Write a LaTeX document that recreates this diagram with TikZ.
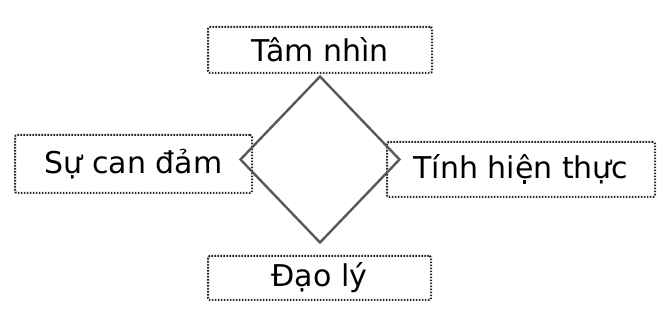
\documentclass[tikz,border=0pt]{standalone}
\usepackage{fontspec}
\setmainfont{DejaVu Sans}
\usetikzlibrary{shapes.geometric}
\tikzset{
  vb/box/.style={draw=black!85, dash pattern=on 1.6pt off 1.4pt, line width=2pt, rounded corners=2pt, inner sep=0pt, align=center, font=\fontsize{30}{34}\selectfont},
  vb/core/.style={draw=black!65, diamond, line width=2.4pt, inner sep=0pt, minimum width=160pt, minimum height=167pt}
}
\begin{document}
\begin{tikzpicture}[x=1pt, y=-1pt]
  \useasboundingbox (0,0) rectangle (657,323);

  \node[vb/box, minimum width=224pt, minimum height=46pt] (vision) at (320,50) {Tâm nhìn};
  \node[vb/box, minimum width=237pt, minimum height=58pt] (courage) at (133.5,164) {Sự can đảm};
  \node[vb/box, minimum width=268pt, minimum height=55pt] (reality) at (521,169.5) {Tính hiện thực};
  \node[vb/box, minimum width=223pt, minimum height=44pt] (ethics) at (319.5,278) {Đạo lý};

  \node[vb/core] (core) at (320,159.5) {};
\end{tikzpicture}
\end{document}
